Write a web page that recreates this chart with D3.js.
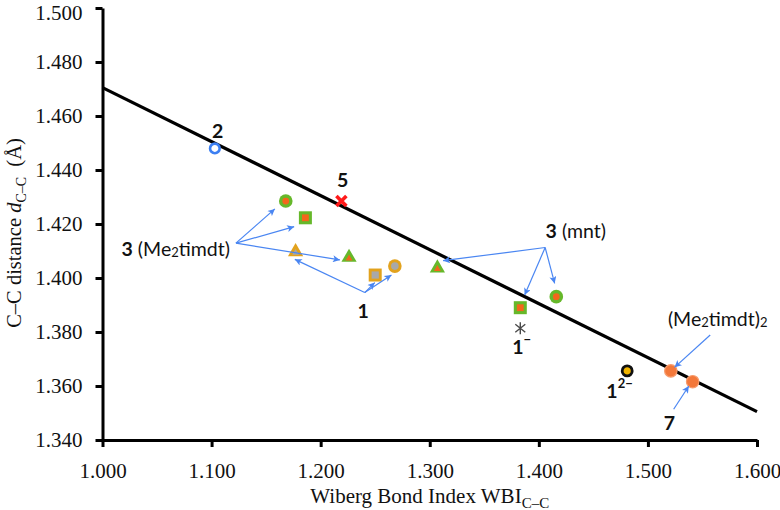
<!DOCTYPE html>
<html><head><meta charset="utf-8">
<script src="https://cdn.jsdelivr.net/npm/d3@7"></script>
<style>body{margin:0;background:#fff}svg{display:block}</style>
</head><body><svg id="c" width="780" height="510"></svg>
<script>
// ---- data ----
const wbiValues = [1.103, 1.219, 1.168, 1.186, 1.226, 1.177, 1.250, 1.268, 1.307, 1.383, 1.416, 1.383, 1.481, 1.521, 1.541];
const dccValues = [1.4480, 1.4285, 1.4285, 1.4223, 1.4079, 1.4100, 1.4011, 1.4044, 1.4040, 1.3890, 1.3931, 1.3814, 1.3656, 1.3656, 1.3616];
const pointKinds = ["openCircle","cross","greenCircle","greenSquare","greenTriangle","goldTriangle","goldSquare","goldCircle",
                    "greenTriangle","greenSquare","greenCircle","asterisk","blackRing","orangeCircle","orangeCircle"];
const fitWBI = [1.000, 1.600];
const fitDCC = [1.4705, 1.3505];
const xTicks = [1.0, 1.1, 1.2, 1.3, 1.4, 1.5, 1.6];
const yTicks = [1.34, 1.36, 1.38, 1.40, 1.42, 1.44, 1.46, 1.48, 1.50];

// annotation labels (data coordinates)
const labelIds   = ["2", "5", "3me", "1", "3mnt", "1m", "12m", "dimer", "7"];
const labelWBI   = [1.1055, 1.2202, 1.1168, 1.2389, 1.4062, 1.3843, 1.4740, 1.5183, 1.5198];
const labelDCC   = [1.4548, 1.4363, 1.4112, 1.3878, 1.4178, 1.3748, 1.3585, 1.3851, 1.3463];
// arrows: from (x1,y1) to (x2,y2) in data coordinates
const arrowFromWBI = [1.1223, 1.1223, 1.1223, 1.2404, 1.2404, 1.2404, 1.4058, 1.4058, 1.4058, 1.5571, 1.5236];
const arrowFromDCC = [1.4129, 1.4129, 1.4129, 1.3946, 1.3946, 1.3946, 1.4113, 1.4113, 1.4113, 1.3789, 1.3514];
const arrowToWBI   = [1.1580, 1.1757, 1.2176, 1.1763, 1.2496, 1.2649, 1.3122, 1.3870, 1.4145, 1.5244, 1.5375];
const arrowToDCC   = [1.4256, 1.4190, 1.4067, 1.4069, 1.3983, 1.4011, 1.4064, 1.3937, 1.3980, 1.3669, 1.3600];

// ---- drawing ----
const svg = d3.select("#c");
const x = d3.scaleLinear().domain([1.0, 1.6]).range([102.5, 757]);
const y = d3.scaleLinear().domain([1.34, 1.50]).range([440, 8]);

const serif = "'Liberation Serif','Times New Roman',serif";
const sans = "Lato, 'Open Sans', sans-serif";

const gx = svg.append("g").attr("transform", `translate(0,${y(1.34)})`)
  .call(d3.axisBottom(x).tickValues(xTicks).tickFormat(d3.format(".3f")).tickSize(7).tickSizeOuter(0).tickPadding(12));
const gy = svg.append("g").attr("transform", `translate(${x(1.0)},0)`)
  .call(d3.axisLeft(y).tickValues(yTicks).tickFormat(d3.format(".3f")).tickSize(7).tickSizeOuter(0).tickPadding(13));
[gx, gy].forEach(g => {
  g.select(".domain").attr("stroke", "#000").attr("stroke-width", 3);
  g.selectAll(".tick line").attr("stroke", "#000").attr("stroke-width", 3);
  g.selectAll(".tick text").attr("font-family", serif).attr("font-size", 21).attr("fill", "#111");
});
gx.selectAll(".tick text").attr("dy", "0.9em");
// keep the top tick label inside the picture
gy.selectAll(".tick text").filter(d => d === 1.50).attr("dy", "0.56em");

// axis titles
const xt = svg.append("text").attr("x", x(1.3)).attr("y", 503).attr("text-anchor", "middle")
  .attr("font-family", serif).attr("font-size", 21).attr("fill", "#111");
xt.append("tspan").text("Wiberg Bond Index WBI");
xt.append("tspan").attr("font-size", 15).attr("dy", 5).text("C\u2013C");

const yt = svg.append("text").attr("transform", `translate(21,${233}) rotate(-90)`).attr("text-anchor", "middle")
  .attr("font-family", serif).attr("font-size", 20.5).attr("fill", "#111");
yt.append("tspan").text("C\u2013C distance ");
yt.append("tspan").attr("font-style", "italic").text("d");
yt.append("tspan").attr("font-size", 14).attr("dy", 5).text("C\u2013C");
yt.append("tspan").attr("dy", -5).text("\u00a0 (\u00c5)");

// fit line
svg.append("line")
  .attr("x1", x(fitWBI[0])).attr("y1", y(fitDCC[0]))
  .attr("x2", x(fitWBI[1])).attr("y2", y(fitDCC[1]))
  .attr("stroke", "#000").attr("stroke-width", 3.2);

// markers
const green = "#66b82a", orangeDot = "#f4661b", gold = "#e2a21d", grey = "#a8a8a8", blue = "#3c7ff2";
const pts = wbiValues.map((v, i) => ({ px: x(v), py: y(dccValues[i]), kind: pointKinds[i] }));
const gm = svg.append("g");
const tri = s => `M0,${-s}L${s * 0.95},${s * 0.65}L${-s * 0.95},${s * 0.65}Z`;
pts.forEach(p => {
  const g = gm.append("g").attr("transform", `translate(${p.px},${p.py})`);
  switch (p.kind) {
    case "openCircle":
      g.append("circle").attr("r", 4.8).attr("fill", "#fff").attr("stroke", blue).attr("stroke-width", 2.6); break;
    case "cross":
      g.append("path").attr("d", "M-5,-5L5,5M-5,5L5,-5").attr("stroke", "#ff1a1a").attr("stroke-width", 3.6).attr("stroke-linecap", "butt"); break;
    case "greenCircle":
      g.append("circle").attr("r", 6.8).attr("fill", green);
      g.append("circle").attr("r", 3.4).attr("fill", orangeDot); break;
    case "greenSquare":
      g.append("rect").attr("x", -6.5).attr("y", -6.5).attr("width", 13).attr("height", 13).attr("fill", green);
      g.append("rect").attr("x", -3.4).attr("y", -3.4).attr("width", 6.8).attr("height", 6.8).attr("fill", orangeDot); break;
    case "greenTriangle":
      g.append("path").attr("d", tri(8)).attr("fill", green);
      g.append("path").attr("d", tri(3.6)).attr("transform", "translate(0,1.5)").attr("fill", orangeDot); break;
    case "goldTriangle":
      g.append("path").attr("d", tri(8)).attr("fill", gold);
      g.append("path").attr("d", tri(3.6)).attr("transform", "translate(0,1.5)").attr("fill", grey); break;
    case "goldSquare":
      g.append("rect").attr("x", -6.5).attr("y", -6.5).attr("width", 13).attr("height", 13).attr("fill", gold);
      g.append("rect").attr("x", -3.6).attr("y", -3.6).attr("width", 7.2).attr("height", 7.2).attr("fill", grey); break;
    case "goldCircle":
      g.append("circle").attr("r", 6.8).attr("fill", gold);
      g.append("circle").attr("r", 3.8).attr("fill", grey); break;
    case "asterisk":
      g.append("path").attr("d", "M0,-6L0,6M-5,-4L5,4M-5,4L5,-4").attr("stroke", "#4a4a4a").attr("stroke-width", 1.4); break;
    case "blackRing":
      g.append("circle").attr("r", 5).attr("fill", "#f0b400").attr("stroke", "#111").attr("stroke-width", 2.8); break;
    case "orangeCircle":
      g.append("circle").attr("r", 6.2).attr("fill", "#f3783a").attr("stroke", "#f79b6c").attr("stroke-width", 1.2); break;
  }
});

// arrows
const defs = svg.append("defs");
defs.append("marker").attr("id", "ah").attr("viewBox", "0 0 10 10").attr("refX", 10).attr("refY", 5)
  .attr("markerWidth", 8).attr("markerHeight", 7).attr("markerUnits", "userSpaceOnUse").attr("orient", "auto")
  .append("path").attr("d", "M0,0L10,5L0,10L2.5,5Z").attr("fill", "#4a86f2");
const ga = svg.append("g");
arrowFromWBI.forEach((v, i) => {
  ga.append("line").attr("x1", x(v)).attr("y1", y(arrowFromDCC[i]))
    .attr("x2", x(arrowToWBI[i])).attr("y2", y(arrowToDCC[i]))
    .attr("stroke", "#4a86f2").attr("stroke-width", 1.2).attr("marker-end", "url(#ah)");
});

// labels
const gl = svg.append("g").attr("font-family", sans).attr("font-size", 19.5).attr("fill", "#111");
const L = (i) => gl.append("text").attr("x", x(labelWBI[i])).attr("y", y(labelDCC[i])).attr("dominant-baseline", "central");
labelIds.forEach((id, i) => {
  const t = L(i);
  if (id === "2" || id === "5" || id === "1" || id === "7") {
    t.attr("text-anchor", "middle").attr("font-weight", "bold").text(id);
  } else if (id === "3me") {
    t.attr("text-anchor", "end");
    t.append("tspan").attr("font-weight", "bold").text("3");
    t.append("tspan").text(" (Me");
    t.append("tspan").attr("font-size", 13).attr("dy", 4).text("2");
    t.append("tspan").attr("dy", -4).text("timdt)");
  } else if (id === "3mnt") {
    t.attr("text-anchor", "start");
    t.append("tspan").attr("font-weight", "bold").text("3");
    t.append("tspan").text(" (mnt)");
  } else if (id === "1m") {
    t.attr("text-anchor", "middle").attr("font-weight", "bold");
    t.append("tspan").text("1");
    t.append("tspan").attr("font-size", 13).attr("dy", -7).text("\u2212");
  } else if (id === "12m") {
    t.attr("text-anchor", "middle").attr("font-weight", "bold");
    t.append("tspan").text("1");
    t.append("tspan").attr("font-size", 13).attr("dy", -7).text("2\u2212");
  } else if (id === "dimer") {
    t.attr("text-anchor", "start");
    t.append("tspan").text("(Me");
    t.append("tspan").attr("font-size", 13).attr("dy", 4).text("2");
    t.append("tspan").attr("dy", -4).text("timdt)");
    t.append("tspan").attr("font-size", 13).attr("dy", 4).text("2");
  }
});
</script></body></html>
